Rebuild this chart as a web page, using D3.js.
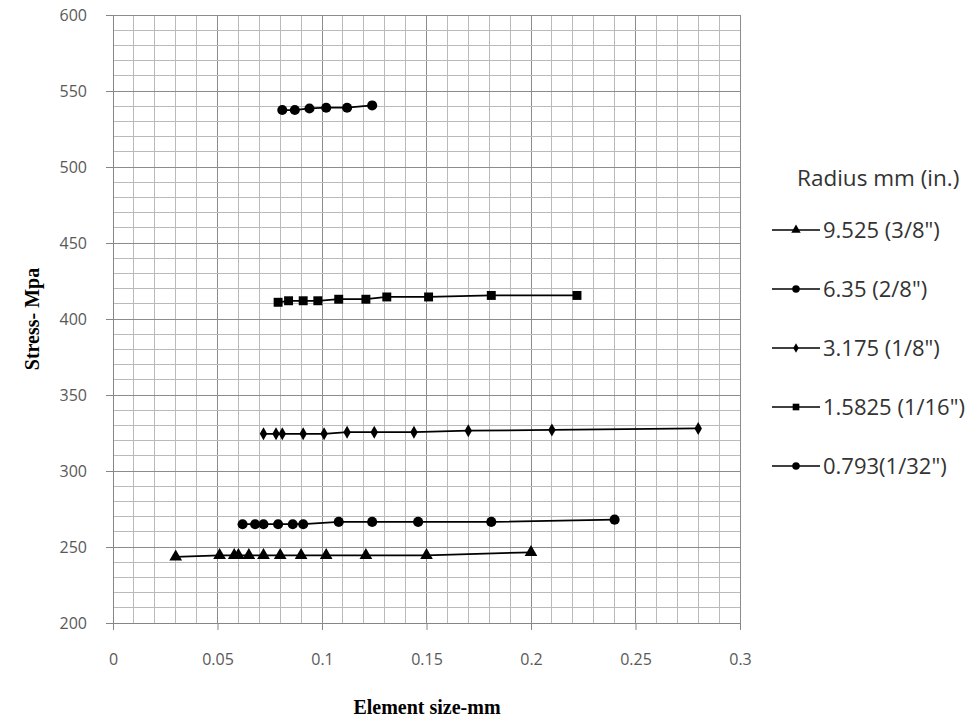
<!DOCTYPE html>
<html>
<head>
<meta charset="utf-8">
<script src="https://cdn.jsdelivr.net/npm/d3@7"></script>
<style>
body { margin: 0; background: #fff; }
.tick text { font-family: "Open Sans", sans-serif; font-size: 16px; fill: #595959; }
</style>
</head>
<body>
<div id="chart"></div>
<script>
//data
var seriesNames = ["9.525 (3/8\")", "6.35 (2/8\")", "3.175 (1/8\")", "1.5825 (1/16\")", "0.793(1/32\")"];
var seriesShapes = ["triangle", "circle", "diamond", "square", "circle"];

var x9525 = [0.030, 0.051, 0.058, 0.060, 0.065, 0.072, 0.080, 0.090, 0.102, 0.121, 0.150, 0.200];
var y9525 = [243.5, 244.5, 244.5, 244.5, 244.5, 244.5, 244.5, 244.5, 244.5, 244.5, 244.5, 246.5];

var x635 = [0.062, 0.068, 0.072, 0.079, 0.086, 0.091, 0.108, 0.124, 0.146, 0.181, 0.240];
var y635 = [265, 265, 265, 265, 265, 265, 266.5, 266.5, 266.5, 266.5, 268];

var x3175 = [0.072, 0.078, 0.081, 0.091, 0.101, 0.112, 0.125, 0.144, 0.170, 0.210, 0.280];
var y3175 = [324.5, 324.5, 324.5, 324.5, 324.5, 325.5, 325.5, 325.5, 326.5, 327, 328];

var x15825 = [0.079, 0.084, 0.091, 0.098, 0.108, 0.121, 0.131, 0.151, 0.181, 0.222];
var y15825 = [411, 412, 412, 412, 413, 413, 414.5, 414.5, 415.5, 415.5];

var x0793 = [0.081, 0.087, 0.094, 0.102, 0.112, 0.124];
var y0793 = [537.5, 537.5, 538.5, 539, 539, 540.5];

var xTicks = [0, 0.05, 0.1, 0.15, 0.2, 0.25, 0.3];
var yTicks = [200, 250, 300, 350, 400, 450, 500, 550, 600];

var allX = [x9525, x635, x3175, x15825, x0793];
var allY = [y9525, y635, y3175, y15825, y0793];

var width = 980, height = 725;
var padLeft = 113, padTop = 15, plotW = 627, plotH = 608;

var svg = d3.select("#chart").append("svg").attr("width", width).attr("height", height);

var x = d3.scaleLinear().domain([0, 0.3]).range([padLeft, padLeft + plotW]);
var y = d3.scaleLinear().domain([200, 600]).range([padTop + plotH, padTop]);

//minor grid every 0.01 / 10 MPa, major every 0.05 / 50 MPa
var grid = svg.append("g");
d3.range(0, 31).forEach(function(i){
    grid.append("line")
        .attr("x1", x(i / 100)).attr("x2", x(i / 100))
        .attr("y1", y(200)).attr("y2", y(600))
        .attr("stroke", i % 5 == 0 ? "#8c8c8c" : "#bababa")
        .attr("stroke-width", 1).attr("shape-rendering", "crispEdges");
});
d3.range(200, 601, 10).forEach(function(v){
    grid.append("line")
        .attr("x1", x(0)).attr("x2", x(0.3))
        .attr("y1", y(v)).attr("y2", y(v))
        .attr("stroke", v % 50 == 0 ? "#8c8c8c" : "#bababa")
        .attr("stroke-width", 1).attr("shape-rendering", "crispEdges");
});

//axes
var xA = d3.axisBottom(x).tickValues(xTicks).tickSize(7).tickSizeOuter(0).tickPadding(24)
    .tickFormat(function(d){ return d3.format("~g")(d); });
var yA = d3.axisLeft(y).tickValues(yTicks).tickSize(7).tickSizeOuter(0).tickPadding(19);

svg.append("g").attr("transform", "translate(0," + y(200) + ")").call(xA)
    .call(function(g){ g.selectAll("line, path").attr("stroke", "#868686"); });
svg.append("g").attr("transform", "translate(" + x(0) + ",0)").call(yA)
    .call(function(g){ g.selectAll("line, path").attr("stroke", "#868686"); });

//axis titles
svg.append("text")
    .attr("x", 427).attr("y", 714)
    .attr("text-anchor", "middle")
    .style("font-family", "'Liberation Serif', serif").style("font-weight", "bold").style("font-size", "20px")
    .text("Element size-mm");
svg.append("text")
    .attr("transform", "translate(39," + y(400) + ") rotate(-90)")
    .attr("text-anchor", "middle")
    .style("font-family", "'Liberation Serif', serif").style("font-weight", "bold").style("font-size", "20px")
    .text("Stress- Mpa");

//marker drawing
function symbolFor(shape, big){
    var s = big ? 1 : 0.55;
    if (shape == "triangle") return d3.symbol().type(d3.symbolTriangle).size(70 * s)();
    if (shape == "square") return d3.symbol().type(d3.symbolSquare).size(80 * s)();
    if (shape == "diamond") return d3.symbol().type(d3.symbolDiamond).size(48 * s)();
    return d3.symbol().type(d3.symbolCircle).size(80 * s)();
}

var line = d3.line().x(function(d){ return x(d[0]); }).y(function(d){ return y(d[1]); });

for (var i = 0; i < allX.length; i++){
    var pts = allX[i].map(function(v, j){ return [v, allY[i][j]]; });
    svg.append("path").datum(pts)
        .attr("d", line)
        .attr("fill", "none").attr("stroke", "#000").attr("stroke-width", 1.75);
    var shape = seriesShapes[i];
    svg.selectAll(null).data(pts).enter().append("path")
        .attr("d", symbolFor(shape, true))
        .attr("transform", function(d){ return "translate(" + x(d[0]) + "," + y(d[1]) + ")"; })
        .attr("fill", "#000");
}

//legend
svg.append("text")
    .attr("x", 797).attr("y", 186)
    .style("font-family", "'Open Sans', sans-serif").style("font-size", "22.5px").style("fill", "#333")
    .text("Radius mm (in.)");
seriesNames.forEach(function(name, i){
    var ly = 230 + i * 59;
    svg.append("line")
        .attr("x1", 772).attr("x2", 820).attr("y1", ly).attr("y2", ly)
        .attr("stroke", "#000").attr("stroke-width", 1.5);
    svg.append("path")
        .attr("d", symbolFor(seriesShapes[i], false))
        .attr("transform", "translate(796," + ly + ")")
        .attr("fill", "#000");
    svg.append("text")
        .attr("x", 823).attr("y", ly + 8)
        .style("font-family", "'Open Sans', sans-serif").style("font-size", "22px").style("fill", "#333")
        .text(name);
});
</script>
</body>
</html>
